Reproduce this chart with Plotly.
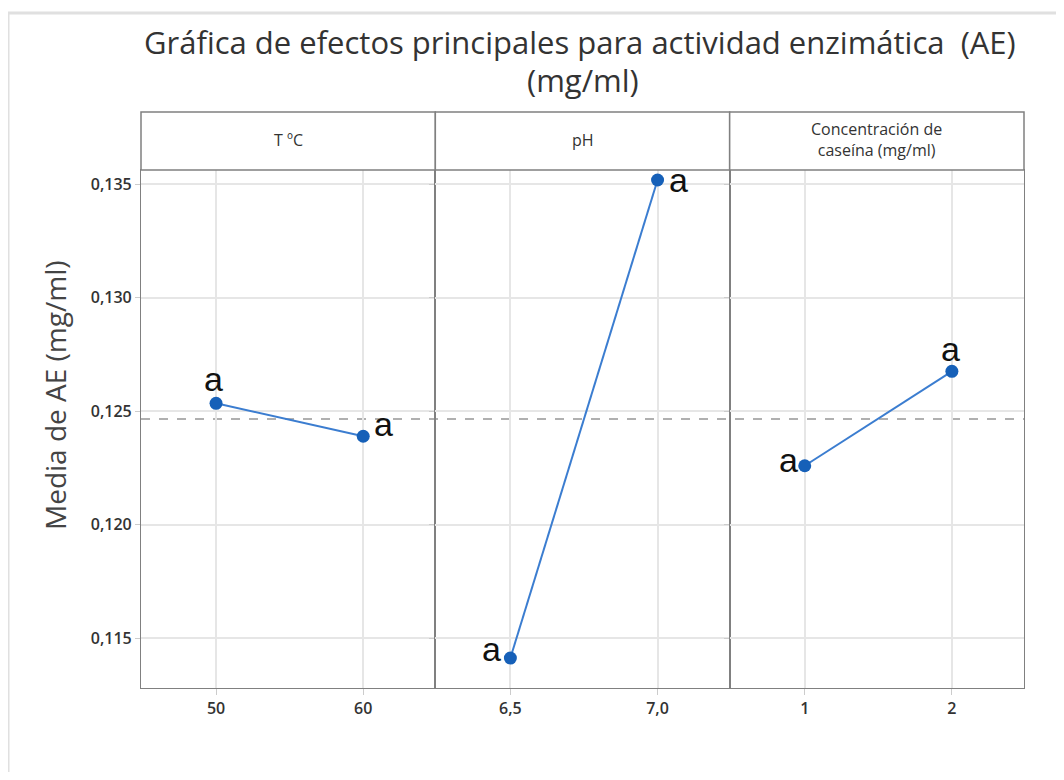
import plotly.graph_objects as go
from plotly.subplots import make_subplots

# Data
factors = ["T ºC", "pH", "Concentración de<br>caseína (mg/ml)"]
levels_t = ["50", "60"]
levels_ph = ["6,5", "7,0"]
levels_cas = ["1", "2"]
means_t = [0.12534, 0.12389]
means_ph = [0.11412, 0.13518]
means_cas = [0.12259, 0.12675]
letters_t = ["a", "a"]
letters_ph = ["a", "a"]
letters_cas = ["a", "a"]
grand_mean = 0.12465
y_ticks = [0.115, 0.120, 0.125, 0.130, 0.135]

levels = [levels_t, levels_ph, levels_cas]
means = [means_t, means_ph, means_cas]
letters = [letters_t, letters_ph, letters_cas]
# letter placement relative to the point (xshift, yshift) in px
letter_offsets = [
    [(-3, 24), (20, 12)],
    [(-19, 9), (21, 0)],
    [(-16, 6), (-1, 22)],
]

# page-pixel -> paper helpers (plot area: x 141..1024, y 170..688 in page px)
PX0, PW, PY1, PH = 141, 883, 688, 518
def px(X):
    return (X - PX0) / PW
def py(Y):
    return (PY1 - Y) / PH

fig = make_subplots(rows=1, cols=3, shared_yaxes=True, horizontal_spacing=0)

line_color = "#3b7dd0"
marker_color = "#1660b8"
grid_color = "#e6e6e6"
frame_color = "#808080"
tick_font = dict(family="Open Sans, sans-serif", size=16, color="#333333", weight=600)

for i in range(3):
    fig.add_trace(
        go.Scatter(
            x=levels[i], y=means[i], mode="lines+markers",
            line=dict(color=line_color, width=2),
            marker=dict(color=marker_color, size=13),
            showlegend=False, hoverinfo="skip",
        ),
        row=1, col=i + 1,
    )
    for j in range(2):
        dx, dy = letter_offsets[i][j]
        fig.add_annotation(
            x=j, y=means[i][j], xref=("x" if i == 0 else f"x{i+1}"), yref="y",
            text=letters[i][j], showarrow=False, xshift=dx, yshift=dy,
            xanchor="center", yanchor="middle",
            font=dict(family="Liberation Sans, Arial, sans-serif", size=34, color="#111111"),
        )
    fig.update_xaxes(
        type="category", categoryarray=levels[i], range=[-0.51, 1.49],
        showgrid=True, gridcolor=grid_color, gridwidth=1.5,
        showline=True, mirror=True, linecolor=frame_color, linewidth=1.2,
        ticks="outside", ticklen=6, tickcolor="#cccccc",
        tickfont=tick_font, zeroline=False,
        row=1, col=i + 1,
    )

fig.update_yaxes(
    range=[0.1128, 0.13562], tickvals=y_ticks, tickformat=".3f",
    showgrid=True, gridcolor=grid_color, gridwidth=1.5,
    showline=True, mirror=True, linecolor=frame_color, linewidth=1.2,
    ticks="outside", ticklen=5, tickcolor="#cccccc",
    tickfont=tick_font, zeroline=False,
)

# Y axis title
fig.add_annotation(x=px(55), y=py(395), xref="paper", yref="paper",
                   xanchor="center", yanchor="middle",
                   text="Media de AE (mg/ml)", textangle=-90, showarrow=False,
                   font=dict(family="Open Sans, sans-serif", size=28, color="#444444"))

# Dashed grand mean line
fig.add_shape(type="line", xref="paper", yref="y", x0=0, x1=1, y0=grand_mean, y1=grand_mean,
              line=dict(color="#b0b0b0", width=2, dash="dash"), layer="below")

# Header strips
for i in range(3):
    fig.add_shape(type="rect", xref="paper", yref="paper",
                  x0=i / 3, x1=(i + 1) / 3, y0=1, y1=py(112),
                  line=dict(color=frame_color, width=1.5), fillcolor="white")
    fig.add_annotation(x=(i + 0.5) / 3, y=py(140), xref="paper", yref="paper",
                       xanchor="center", yanchor="middle",
                       text=factors[i], showarrow=False,
                       font=dict(family="Open Sans, sans-serif", size=16, color="#333333"))

# Outer window frame
fig.add_shape(type="line", xref="paper", yref="paper",
              x0=px(8), x1=px(1070), y0=py(13), y1=py(13),
              line=dict(color="#e0e0e0", width=3))
fig.add_shape(type="line", xref="paper", yref="paper",
              x0=px(8), x1=px(8), y0=py(13), y1=py(790),
              line=dict(color="#e0e0e0", width=3))

# Title (two lines)
title_font = dict(family="Open Sans, sans-serif", size=31, color="#333333")
fig.add_annotation(x=px(580), y=py(42), xref="paper", yref="paper", showarrow=False,
                   xanchor="center", yanchor="middle",
                   text="Gráfica de efectos principales para actividad enzimática  (AE)", font=title_font)
fig.add_annotation(x=px(583), y=py(80), xref="paper", yref="paper", showarrow=False,
                   xanchor="center", yanchor="middle",
                   text="(mg/ml)", font=title_font)

fig.update_layout(
    width=1048, height=764,
    margin=dict(l=133, r=32, t=162, b=84),
    paper_bgcolor="white", plot_bgcolor="white",
    separators=",.",
)

fig.write_html("out.html")
